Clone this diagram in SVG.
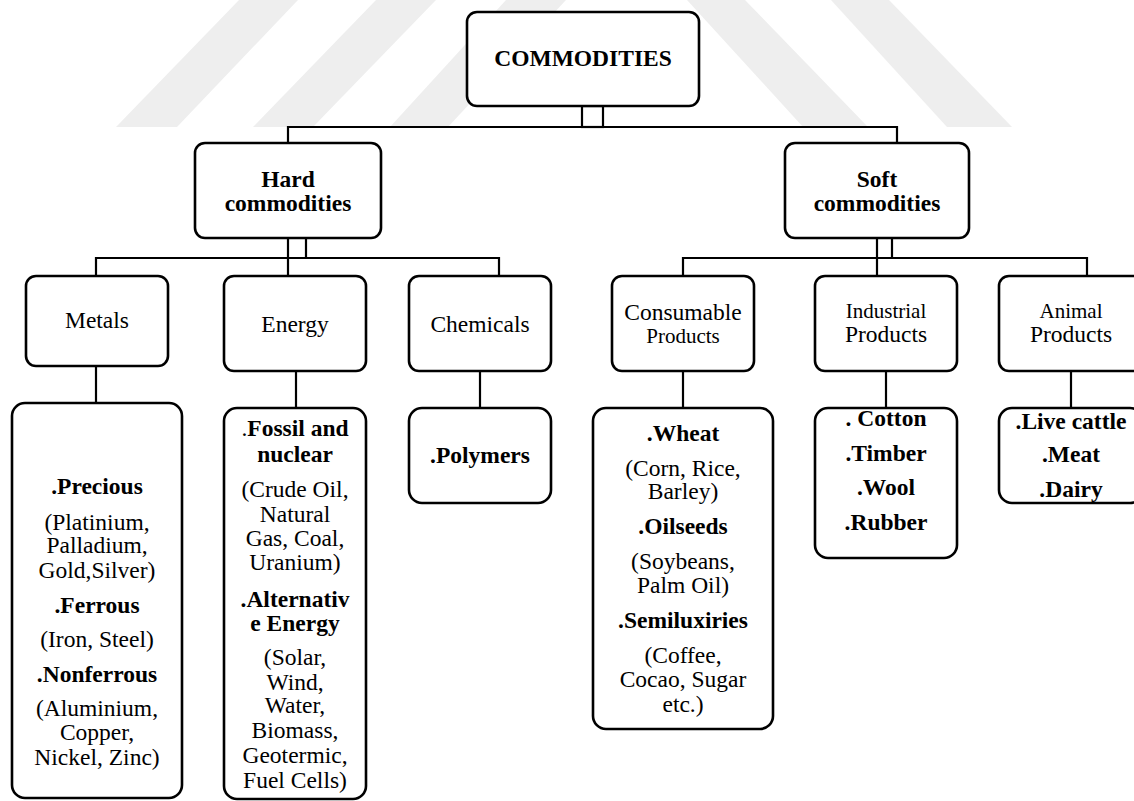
<svg xmlns="http://www.w3.org/2000/svg" width="1134" height="801" viewBox="0 0 1134 801">
  <style>
    .box { fill: #ffffff; stroke: #000000; stroke-width: 2.6; }
    .ln { fill: none; stroke: #000000; stroke-width: 2.2; }
    .wm { fill: #eeeeee; stroke: none; }
    text { font-family: "Liberation Serif", "Times New Roman", serif; font-size: 23.5px; fill: #000000; text-anchor: middle; }
    .b { font-weight: bold; }
    .s { font-size: 21px; }
    .n { font-weight: normal; }
  </style>
  <rect x="0" y="0" width="1134" height="801" fill="#ffffff"/>
  <g id="watermark">
    <polygon class="wm" points="116,127 177,127 298,0 239,0"/>
    <polygon class="wm" points="253,127 313,127 436,0 376,0"/>
    <polygon class="wm" points="390,127 448,127 566,0 506,0"/>
    <polygon class="wm" points="687,0 745,0 868,127 803,127"/>
    <polygon class="wm" points="831,0 889,0 1012,127 947,127"/>
  </g>
  <g id="connectors">
    <rect class="ln" x="582" y="106" width="21" height="21"/>
    <path class="ln" d="M288,143 V127 H897 V143"/>
    <path class="ln" d="M288,238 V276 M306,238 V258"/>
    <path class="ln" d="M96,276 V258 H499 V276"/>
    <path class="ln" d="M877,238 V276 M892,238 V258"/>
    <path class="ln" d="M683,276 V258 H1087 V276"/>
    <path class="ln" d="M96,366 V403"/>
    <path class="ln" d="M296,371 V408"/>
    <path class="ln" d="M480,371 V408"/>
    <path class="ln" d="M683,371 V408"/>
    <path class="ln" d="M886,371 V408"/>
    <path class="ln" d="M1071,371 V408"/>
  </g>
  <g id="commodities">
    <rect class="box" x="467" y="12" width="232" height="94" rx="10"/>
    <text class="b" x="583" y="66">COMMODITIES</text>
  </g>
  <g id="hard">
    <rect class="box" x="195" y="143" width="186" height="95" rx="10"/>
    <text class="b" x="288" y="187">Hard</text>
    <text class="b" x="288" y="211">commodities</text>
  </g>
  <g id="soft">
    <rect class="box" x="785" y="143" width="184" height="95" rx="10"/>
    <text class="b" x="877" y="187">Soft</text>
    <text class="b" x="877" y="211">commodities</text>
  </g>
  <g id="metals">
    <rect class="box" x="26" y="276" width="142" height="90" rx="10"/>
    <text x="97" y="328">Metals</text>
  </g>
  <g id="energy">
    <rect class="box" x="224" y="276" width="142" height="95" rx="10"/>
    <text x="295" y="332">Energy</text>
  </g>
  <g id="chemicals">
    <rect class="box" x="409" y="276" width="142" height="95" rx="10"/>
    <text x="480" y="332">Chemicals</text>
  </g>
  <g id="consumable">
    <rect class="box" x="612" y="276" width="142" height="95" rx="10"/>
    <text x="683" y="320">Consumable</text>
    <text class="s" x="683" y="343">Products</text>
  </g>
  <g id="industrial">
    <rect class="box" x="815" y="276" width="142" height="95" rx="10"/>
    <text class="s" x="886" y="318">Industrial</text>
    <text x="886" y="342">Products</text>
  </g>
  <g id="animal">
    <rect class="box" x="999" y="276" width="144" height="95" rx="10"/>
    <text class="s" x="1071" y="318">Animal</text>
    <text x="1071" y="342">Products</text>
  </g>
  <g id="metals-list">
    <rect class="box" x="12" y="403" width="170" height="395" rx="13"/>
    <text class="b" x="97" y="494">.Precious</text>
    <text x="97" y="530">(Platinium,</text>
    <text x="97" y="553">Palladium,</text>
    <text x="97" y="578">Gold,Silver)</text>
    <text class="b" x="97" y="613">.Ferrous</text>
    <text x="97" y="647">(Iron, Steel)</text>
    <text class="b" x="97" y="682">.Nonferrous</text>
    <text x="97" y="716">(Aluminium,</text>
    <text x="97" y="740">Copper,</text>
    <text x="97" y="765">Nickel, Zinc)</text>
  </g>
  <g id="energy-list">
    <rect class="box" x="224" y="408" width="142" height="391" rx="13"/>
    <text class="b" x="295" y="436"><tspan class="n">.</tspan>Fossil and</text>
    <text class="b" x="295" y="462">nuclear</text>
    <text x="295" y="497">(Crude Oil,</text>
    <text x="295" y="522">Natural</text>
    <text x="295" y="546">Gas, Coal,</text>
    <text x="295" y="570">Uranium)</text>
    <text class="b" x="295" y="607">.Alternativ</text>
    <text class="b" x="295" y="631">e Energy</text>
    <text x="295" y="665">(Solar,</text>
    <text x="295" y="690">Wind,</text>
    <text x="295" y="713">Water,</text>
    <text x="295" y="738">Biomass,</text>
    <text x="295" y="763">Geotermic,</text>
    <text x="295" y="788">Fuel Cells)</text>
  </g>
  <g id="chemicals-list">
    <rect class="box" x="409" y="408" width="142" height="95" rx="13"/>
    <text class="b" x="480" y="463">.Polymers</text>
  </g>
  <g id="consumable-list">
    <rect class="box" x="593" y="408" width="180" height="321" rx="13"/>
    <text class="b" x="683" y="441">.Wheat</text>
    <text x="683" y="476">(Corn, Rice,</text>
    <text x="683" y="499">Barley)</text>
    <text class="b" x="683" y="534">.Oilseeds</text>
    <text x="683" y="569">(Soybeans,</text>
    <text x="683" y="593">Palm Oil)</text>
    <text class="b" x="683" y="628">.Semiluxiries</text>
    <text x="683" y="663">(Coffee,</text>
    <text x="683" y="687">Cocao, Sugar</text>
    <text x="683" y="712">etc.)</text>
  </g>
  <g id="industrial-list">
    <rect class="box" x="815" y="408" width="142" height="150" rx="13"/>
    <text class="b" x="886" y="426">. Cotton</text>
    <text class="b" x="886" y="461">.Timber</text>
    <text class="b" x="886" y="495">.Wool</text>
    <text class="b" x="886" y="530">.Rubber</text>
  </g>
  <g id="animal-list">
    <rect class="box" x="999" y="408" width="144" height="95" rx="13"/>
    <text class="b" x="1071" y="429">.Live cattle</text>
    <text class="b" x="1071" y="462">.Meat</text>
    <text class="b" x="1071" y="497">.Dairy</text>
  </g>
</svg>
